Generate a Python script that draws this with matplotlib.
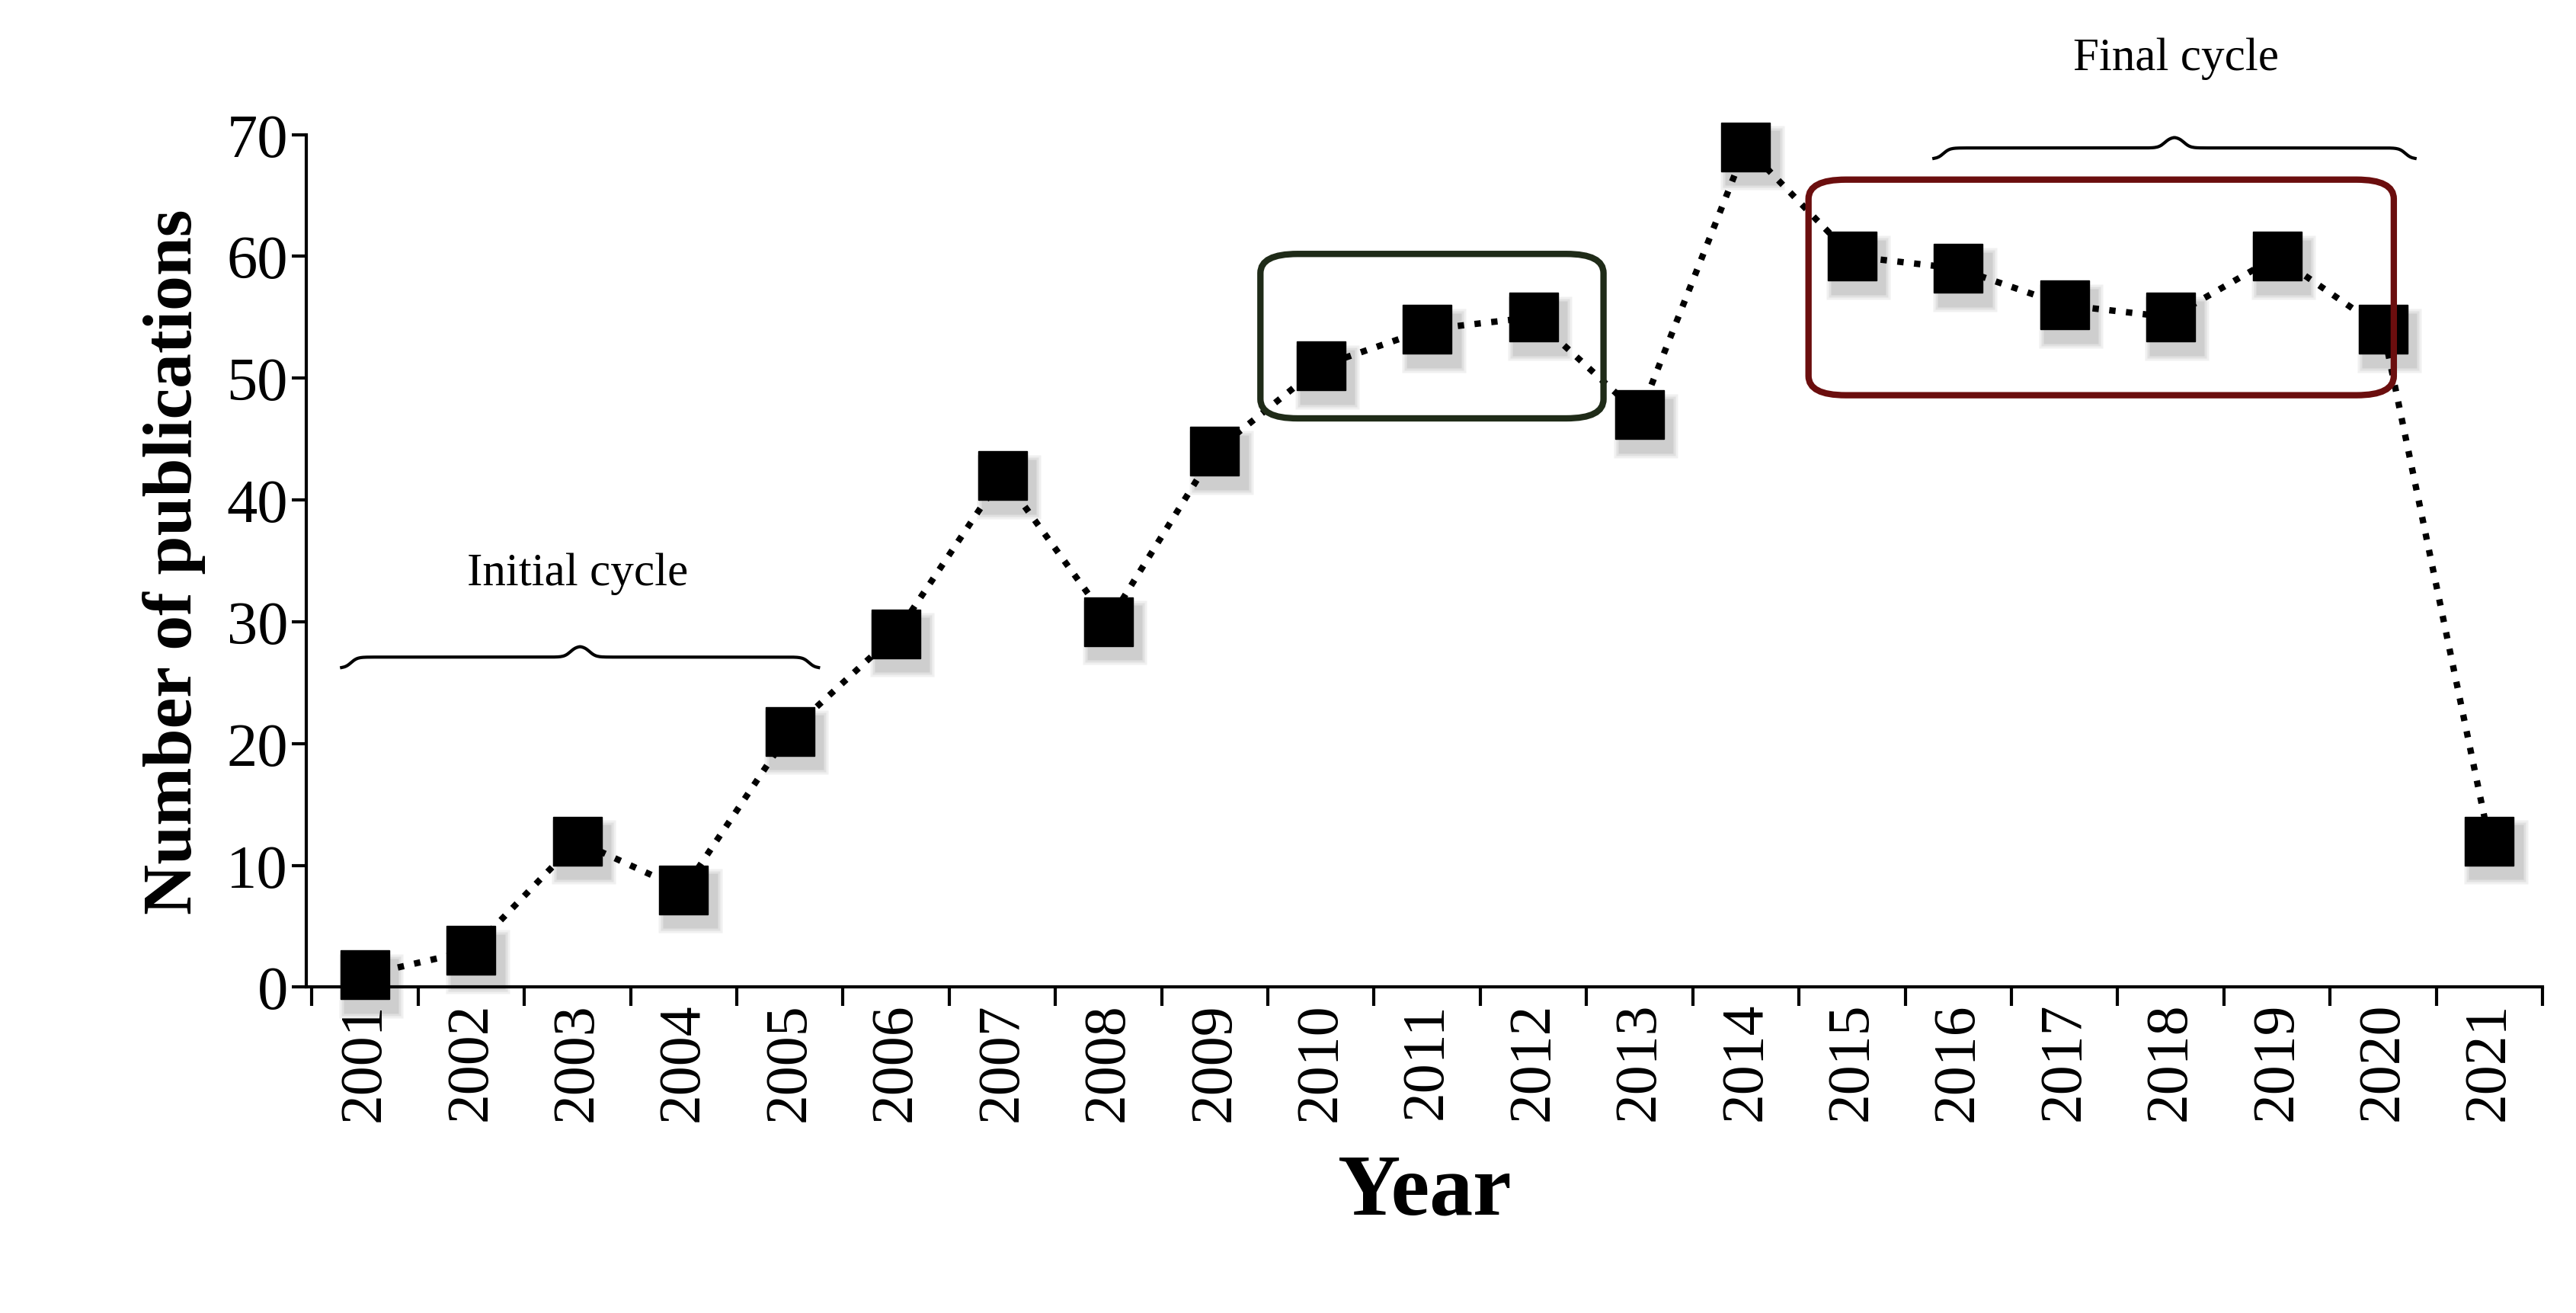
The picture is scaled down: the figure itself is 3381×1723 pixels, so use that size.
import matplotlib
matplotlib.use("Agg")
import matplotlib.pyplot as plt
import numpy as np
from matplotlib.patches import FancyBboxPatch

years = ["2001","2002","2003","2004","2005","2006","2007","2008","2009","2010",
         "2011","2012","2013","2014","2015","2016","2017","2018","2019","2020","2021"]
pubs = [1,3,12,8,21,29,42,30,44,51,54,55,47,69,60,59,56,55,60,54,12]
yticks = [0,10,20,30,40,50,60,70]

plt.rcParams['font.family'] = ['Liberation Serif', 'DejaVu Serif']
fig = plt.figure(figsize=(33.81,17.24), dpi=100)
ax = fig.add_axes([0.119,0.248,0.868,0.649])
x = np.arange(len(years))
ax.plot(x, pubs, ls=':', color='black', lw=6, zorder=2)
# soft shadow
for k, a in [(1.0,0.12),(0.7,0.15),(0.4,0.2)]:
    ax.plot(x+0.06, np.array(pubs)-0.9, 's', ms=46+14*k, color='#888888', alpha=a,
            zorder=1, mec='none', clip_on=False)
ax.plot(x, pubs, 's', ms=46, color='black', zorder=3, clip_on=False)

ax.set_xlim(-0.55,20.5)
ax.set_ylim(0,70)
ax.set_yticks(yticks)
ax.set_xticks(x)
ax.set_xticklabels(years, rotation=90, fontsize=56)
ax.tick_params(axis='x', length=0, pad=14)
ax.set_xticks(np.arange(-0.5,20.6,1), minor=True)
ax.tick_params(axis='x', which='minor', length=18, width=3, direction='out')
ax.tick_params(axis='y', labelsize=58, length=14, width=3, direction='out')
for s in ['top','right']:
    ax.spines[s].set_visible(False)
for s in ['left','bottom']:
    ax.spines[s].set_linewidth(3)
ax.set_ylabel('Number of publications', fontsize=66, fontweight='bold', labelpad=20)
ax.set_xlabel('Year', fontsize=82, fontweight='bold', labelpad=30)

def box(x0,x1,y0,y1,color):
    p = FancyBboxPatch((x0,y0), x1-x0, y1-y0, boxstyle="round,pad=0,rounding_size=0.35",
                       mutation_aspect=4.5, fill=False, ec=color, lw=6, zorder=4, clip_on=False)
    ax.add_patch(p)
box(8.43,11.66,46.7,60.2,'#1f2b18')
box(13.59,19.1,48.6,66.3,'#6b0e0e')

def brace(x0,x1,y,h):
    t = np.linspace(0,1,400)
    xs = x0 + (x1-x0)*t
    u = np.where(t<0.5, t, 1-t)
    ys = y + h*(1/(1+np.exp(-(u-0.02)*150))*0.5 + 0.5/(1+np.exp(-(u-0.48)*150)))
    ax.plot(xs, ys, color='black', lw=3, clip_on=False)
brace(-0.22,4.27,26.2,1.8)
brace(14.77,19.3,68.0,1.8)
ax.text(2.0,34.0,'Initial cycle', fontsize=44, ha='center', va='center')
ax.text(17.05,76.3,'Final cycle', fontsize=44, ha='center', va='center', clip_on=False)
fig.savefig('out.png', dpi=100)
